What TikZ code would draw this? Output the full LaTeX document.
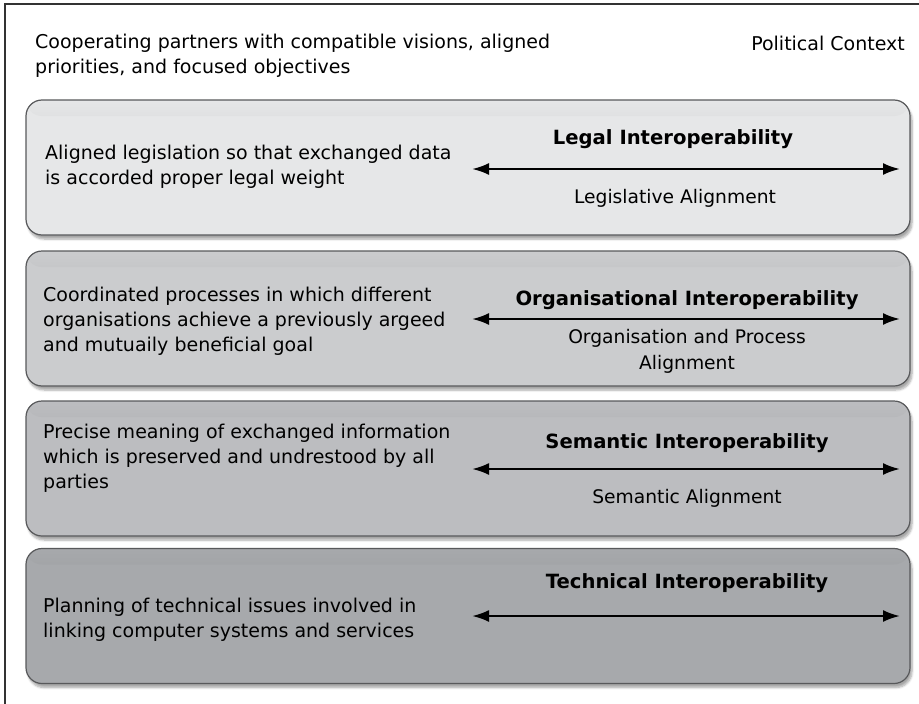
\documentclass[tikz,border=0pt]{standalone}
\usepackage{fontspec}
\setmainfont{DejaVu Sans}
\usetikzlibrary{arrows.meta,shadows.blur}
\definecolor{frame}{HTML}{333333}
\definecolor{edge}{HTML}{58595B}
\definecolor{legal}{HTML}{E6E7E8}
\definecolor{organ}{HTML}{CBCCCE}
\definecolor{seman}{HTML}{BCBDC0}
\definecolor{techn}{HTML}{A7A9AC}
\tikzset{
  layer/.style={draw=edge, fill=#1, line width=1.2pt, rounded corners=16pt,
    minimum width=884pt, minimum height=135pt, inner sep=0pt,
    blur shadow={shadow xshift=2pt, shadow yshift=-4pt, shadow blur steps=6, shadow opacity=35},
    path picture={\shade[top color=#1, bottom color=#1!78!black]
      (path picture bounding box.north west) rectangle ([yshift=-16pt]path picture bounding box.north east);}},
  desc/.style={align=left, anchor=west, inner sep=0pt, font=\fontsize{19}{25}\selectfont},
  head/.style={inner sep=0pt, font=\fontsize{19.6}{24}\selectfont\bfseries},
  sub/.style={align=center, inner sep=0pt, font=\fontsize{18.7}{26}\selectfont},
  link/.style={line width=2.4pt, {Latex[length=17pt,width=12pt]}-{Latex[length=17pt,width=12pt]}},
}
\begin{document}
\begin{tikzpicture}[x=1pt, y=-1pt]
  \useasboundingbox (0,0) rectangle (919,704);
  \draw[frame, line width=1.2pt] (5,704) -- (5,4) -- (919,4);

  % political context
  \node[desc] (vision) at (35,56) {Cooperating partners with compatible visions, aligned\\priorities, and focused objectives};
  \node[desc, anchor=east] (context) at (905,43) {Political Context};

  % the four layers
  \node[layer=legal] (legal) at (468,167.5) {};
  \node[layer=organ] (organ) at (468,318.5) {};
  \node[layer=seman] (seman) at (468,468.5) {};
  \node[layer=techn] (techn) at (468,616) {};

  \node[desc] (legaltxt) at (45,167) {Aligned legislation so that exchanged data\\is accorded proper legal weight};
  \node[desc] (organtxt) at (43,321) {Coordinated processes in which different\\organisations achieve a previously argeed\\and mutuaily beneficial goal};
  \node[desc] (semantxt) at (43,458) {Precise meaning of exchanged information\\which is preserved and undrestood by all\\parties};
  \node[desc] (techntxt) at (43,620) {Planning of technical issues involved in\\linking computer systems and services};

  \node[head] (legalhead) at (673,139) {Legal Interoperability};
  \node[head] (organhead) at (687,300) {Organisational Interoperability};
  \node[head] (semanhead) at (687,443) {Semantic Interoperability};
  \node[head] (technhead) at (687,583) {Technical Interoperability};

  \node[sub] (legalsub) at (675,198) {Legislative Alignment};
  \node[sub] (organsub) at (687,351) {Organisation and Process\\Alignment};
  \node[sub] (semansub) at (687,498) {Semantic Alignment};

  \foreach \L/\y in {legal/169, organ/319, seman/469, techn/616} {
    \coordinate (\L W) at (472,\y);
    \coordinate (\L E) at (900,\y);
    \draw[link] (\L W) -- (\L E);
  }
\end{tikzpicture}
\end{document}
